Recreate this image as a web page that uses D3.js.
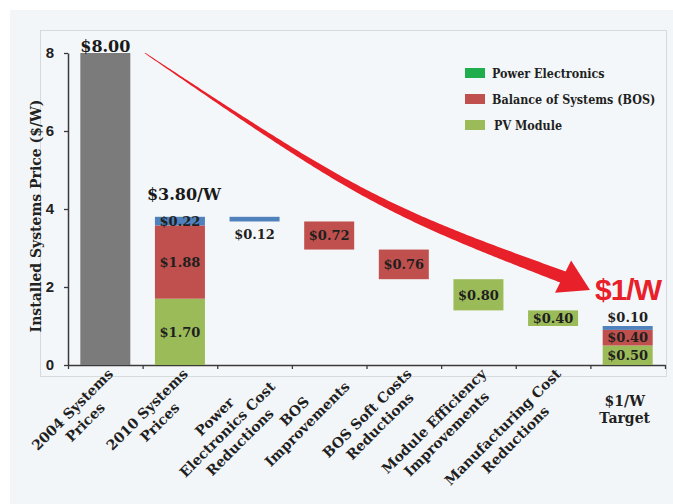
<!DOCTYPE html>
<html><head><meta charset="utf-8">
<script src="https://cdn.jsdelivr.net/npm/d3@7"></script>
<style>html,body{margin:0;padding:0;background:#fff;} svg{display:block}</style>
</head><body><svg id="c" width="673" height="504"></svg>
<script>
// ---------- DATA ----------
const categories = ["2004 Systems Prices", "2010 Systems Prices", "Power Electronics Cost Reductions",
  "BOS Improvements", "BOS Soft Costs Reductions", "Module Efficiency Improvements",
  "Manufacturing Cost Reductions", "$1/W Target"];
const categoryLines = [["2004 Systems", "Prices"], ["2010 Systems", "Prices"], ["Power", "Electronics Cost", "Reductions"],
  ["BOS", "Improvements"], ["BOS Soft Costs", "Reductions"], ["Module Efficiency", "Improvements"],
  ["Manufacturing Cost", "Reductions"], ["$1/W", "Target"]];
const price2004 = 8.00;
const stackCategories = ["2010 Systems Prices", "$1/W Target"];
const pvModule = [1.70, 0.50];
const bosValues = [1.88, 0.40];
const powerElectronics = [0.22, 0.10];
const reductionCategories = ["Power Electronics Cost Reductions", "BOS Improvements", "BOS Soft Costs Reductions",
  "Module Efficiency Improvements", "Manufacturing Cost Reductions"];
const reductionValues = [0.12, 0.72, 0.76, 0.80, 0.40];
const reductionComponent = ["pe", "bos", "bos", "pv", "pv"];
const legendKeys = ["peLegend", "bos", "pv"];
const legendLabels = ["Power Electronics", "Balance of Systems (BOS)", "PV Module"];
const yTicks = [0, 2, 4, 6, 8];
// annotation arrow path: [category position, $/W]
const arrowPath = [[1.03, 8.0], [2.44, 6.2], [3.78, 4.62], [5.12, 3.38], [6.67, 2.23]];
const arrowTip = [6.995, 1.92];
const targetLabel = "$1/W";

// ---------- STYLE ----------
const colors = {gray: "#7b7b7b", bos: "#c0504d", pv: "#9bbb59", pe: "#4f81bd", peLegend: "#1fae4b", arrow: "#e8202a"};
const serif = "'DejaVu Serif', serif";
const sans = "'Liberation Sans', Arial, sans-serif";
const W = 673, H = 504;
const plot = {left: 68, right: 665, top: 53, bottom: 365};

const svg = d3.select("#c");
svg.append("rect").attr("x", 10).attr("y", 10).attr("width", W - 10).attr("height", H - 10).attr("fill", "#f3f6f8");
svg.append("rect").attr("x", 40.5).attr("y", 30.5).attr("width", 626).attr("height", 346)
  .attr("fill", "#f4f7f9").attr("stroke", "#d6dadd").attr("stroke-width", 1);

const x = d3.scaleBand().domain(categories).range([plot.left, plot.right]).paddingInner(0.33).paddingOuter(0.165);
const catPos = d3.scaleLinear().domain([0, categories.length]).range([plot.left, plot.right]);
const y = d3.scaleLinear().domain([0, 8]).range([plot.bottom, plot.top]);
const cx = c => x(c) + x.bandwidth() / 2;
const fmt = v => "$" + v.toFixed(2);

// axes
const yAxis = svg.append("g").attr("transform", `translate(${plot.left},0)`)
  .call(d3.axisLeft(y).tickValues(yTicks).tickSize(4).tickSizeOuter(0).tickPadding(10).tickFormat(d3.format("d")));
yAxis.attr("font-size", 15).attr("font-family", sans);
yAxis.select(".domain").attr("stroke", "#3a3a3a").attr("stroke-width", 1.5);
yAxis.selectAll(".tick line").attr("stroke", "#3a3a3a").attr("stroke-width", 1.3);
yAxis.selectAll(".tick text").attr("font-weight", "bold").attr("fill", "#222");

const xAxis = svg.append("g").attr("transform", `translate(0,${plot.bottom})`)
  .call(d3.axisBottom(catPos).tickValues(d3.range(categories.length + 1)).tickSize(4).tickSizeOuter(0).tickFormat(""));
xAxis.select(".domain").attr("stroke", "#3a3a3a").attr("stroke-width", 1.5);
xAxis.selectAll(".tick line").attr("stroke", "#3a3a3a").attr("stroke-width", 1.3);

// y title
svg.append("text").attr("transform", `translate(41,216) rotate(-90)`).attr("text-anchor", "middle")
  .attr("font-family", serif).attr("font-weight", "bold").attr("font-size", 14).attr("fill", "#222")
  .text("Installed Systems Price ($/W)");

// 2004 bar
svg.append("rect").attr("x", x(categories[0])).attr("width", x.bandwidth())
  .attr("y", y(price2004)).attr("height", y(0) - y(price2004)).attr("fill", colors.gray);
svg.append("text").attr("x", cx(categories[0])).attr("y", y(price2004) - 1).attr("text-anchor", "middle")
  .attr("font-family", serif).attr("font-weight", "bold").attr("font-size", 16).attr("fill", "#1a1a1a")
  .text(fmt(price2004));

// stacked bars
const stackRows = stackCategories.map((c, i) => ({cat: c, pv: pvModule[i], bos: bosValues[i], pe: powerElectronics[i]}));
const series = d3.stack().keys(["pv", "bos", "pe"])(stackRows);
const labelG = [];
series.forEach(s => {
  s.forEach(d => {
    svg.append("rect").attr("x", x(d.data.cat)).attr("width", x.bandwidth())
      .attr("y", y(d[1])).attr("height", y(d[0]) - y(d[1])).attr("fill", colors[s.key]);
    const v = d.data[s.key];
    let ly;
    if (v < 0.15) ly = y(d[1]) - 4; else ly = (y(d[0]) + y(d[1])) / 2 + 4.7;
    labelG.push({x: cx(d.data.cat), y: ly, t: fmt(v)});
  });
});
const total2010 = pvModule[0] + bosValues[0] + powerElectronics[0];
svg.append("text").attr("x", cx(stackCategories[0]) + 4).attr("y", y(total2010) - 17).attr("text-anchor", "middle")
  .attr("font-family", serif).attr("font-weight", "bold").attr("font-size", 16).attr("fill", "#1a1a1a")
  .text("$" + total2010.toFixed(2) + "/W");

// waterfall steps
let level = total2010;
reductionCategories.forEach((c, i) => {
  const v = reductionValues[i];
  const top = level, bot = level - v;
  level = bot;
  svg.append("rect").attr("x", x(c)).attr("width", x.bandwidth())
    .attr("y", y(top)).attr("height", y(bot) - y(top)).attr("fill", colors[reductionComponent[i]]);
  const ly = v < 0.15 ? y(bot) + 18 : (y(top) + y(bot)) / 2 + 4.7;
  labelG.push({x: cx(c), y: ly, t: fmt(v)});
});

labelG.forEach(l => svg.append("text").attr("x", l.x).attr("y", l.y).attr("text-anchor", "middle")
  .attr("font-family", serif).attr("font-weight", "bold").attr("font-size", 13).attr("fill", "#1f1f1f").text(l.t));

// category labels
categories.forEach((c, i) => {
  const lines = categoryLines[i];
  if (i === categories.length - 1) {
    const g = svg.append("g").attr("transform", `translate(${cx(c) - 3},${plot.bottom})`);
    lines.forEach((ln, j) => g.append("text").attr("x", 0).attr("y", 41 + j * 17).attr("text-anchor", "middle")
      .attr("font-family", serif).attr("font-weight", "bold").attr("font-size", 14).attr("fill", "#1f1f1f").text(ln));
    return;
  }
  const g = svg.append("g").attr("transform", `translate(${cx(c) + 1},${plot.bottom + 2}) rotate(-45)`);
  const texts = lines.map((ln, j) => g.append("text").attr("y", 11 + j * 18).attr("text-anchor", "middle")
    .attr("font-family", serif).attr("font-weight", "bold").attr("font-size", 14).attr("fill", "#1f1f1f").text(ln));
  const maxW = d3.max(texts, t => t.node().getComputedTextLength());
  texts.forEach(t => t.attr("x", -maxW / 2));
});

// legend
legendKeys.forEach((k, i) => {
  const cy = 73 + i * 26;
  svg.append("rect").attr("x", 465).attr("y", cy - 5).attr("width", 20).attr("height", 10).attr("fill", colors[k]);
  svg.append("g").attr("transform", `translate(${i === 2 ? 494 : 492},${cy + 5}) scale(0.86,1)`)
    .append("text").attr("font-family", serif).attr("font-weight", "bold").attr("font-size", 13).attr("fill", "#1f1f1f")
    .text(legendLabels[i]);
});

// arrow annotation
const pts = arrowPath.map(p => [catPos(p[0]), y(p[1])]);
const tmp = svg.append("path").attr("d", d3.line().curve(d3.curveNatural)(pts)).attr("fill", "none");
const node = tmp.node(), L = node.getTotalLength();
const N = 160, left = [], right = [];
for (let k = 0; k <= N; k++) {
  const s = L * k / N;
  const p = node.getPointAtLength(s);
  const p2 = node.getPointAtLength(Math.min(L, s + 0.5)), p1 = node.getPointAtLength(Math.max(0, s - 0.5));
  let dx = p2.x - p1.x, dy = p2.y - p1.y; const n = Math.hypot(dx, dy) || 1; dx /= n; dy /= n;
  const w = (0.8 + 11.5 * (k / N)) / 2;
  left.push([p.x - dy * w, p.y + dx * w]);
  right.push([p.x + dy * w, p.y - dx * w]);
}
tmp.remove();
svg.append("path").attr("d", d3.line()(left.concat(right.reverse())) + "Z").attr("fill", colors.arrow);
const E = pts[pts.length - 1], T = [catPos(arrowTip[0]), y(arrowTip[1])];
let ux = T[0] - E[0], uy = T[1] - E[1]; const ul = Math.hypot(ux, uy); ux /= ul; uy /= ul;
const hw = 18, back = 3;
const B = [E[0] - ux * back, E[1] - uy * back];
svg.append("path").attr("d", d3.line()([[B[0] - uy * hw, B[1] + ux * hw], T, [B[0] + uy * hw, B[1] - ux * hw]]) + "Z")
  .attr("fill", colors.arrow);
svg.append("text").attr("x", 628).attr("y", 300).attr("text-anchor", "middle")
  .attr("font-family", sans).attr("font-weight", "bold").attr("font-size", 30).attr("fill", colors.arrow)
  .attr("letter-spacing", -1).text(targetLabel);
</script></body></html>
